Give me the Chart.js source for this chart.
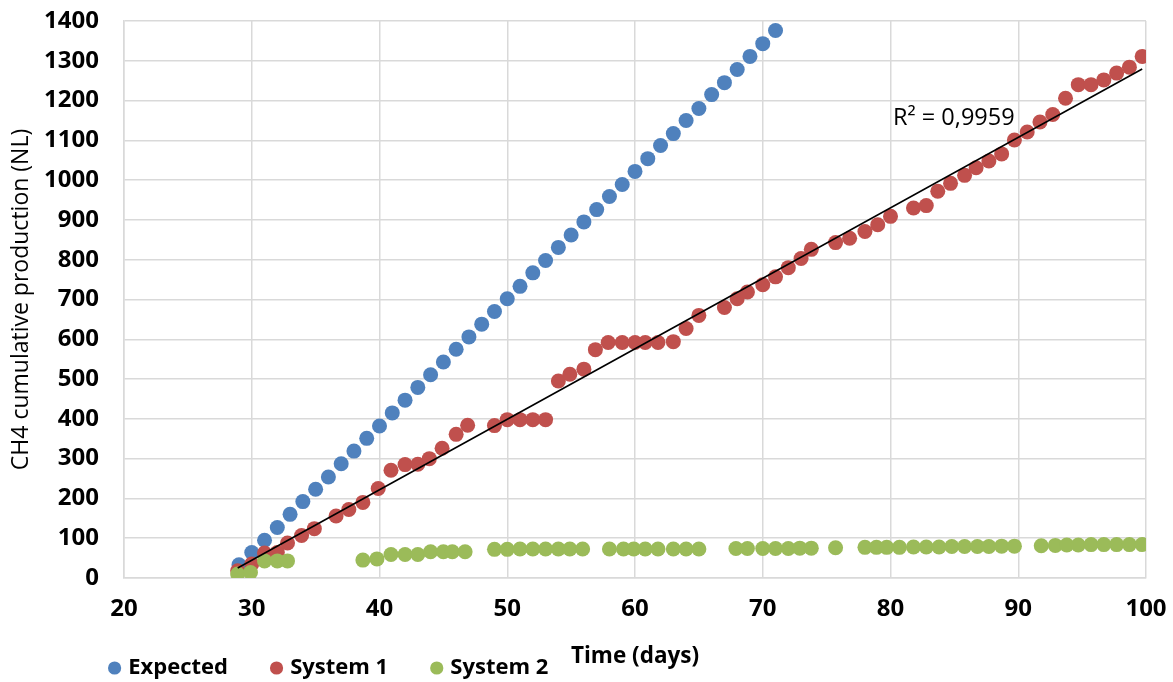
<!DOCTYPE html>
<html>
<head>
<meta charset="utf-8">
<title>CH4 cumulative production</title>
<script src="https://cdn.jsdelivr.net/npm/chart.js@4.4.1/dist/chart.umd.min.js"></script>
<style>
  html, body { margin: 0; padding: 0; background: #ffffff; }
  #wrap { width: 1173px; height: 682px; }
</style>
</head>
<body>
<div id="wrap"><canvas id="chart" width="1173" height="682"></canvas></div>
<script>
// Expected methane production (one reading per day)
const expectedDays = [29, 30, 31, 32, 33, 34, 35, 36, 37, 38, 39, 40, 41, 42, 43, 44, 45, 46, 47, 48, 49, 50,
  51, 52, 53, 54, 55, 56, 57, 58, 59, 60, 61, 62, 63, 64, 65, 66, 67, 68, 69, 70, 71];
const expectedValues = [33, 64, 95, 127, 160, 192, 223, 254, 287, 319, 351, 382, 415, 447, 479, 511, 543, 575, 606, 638, 670, 702,
  733, 767, 798, 831, 862, 895, 926, 959, 989, 1022, 1054, 1087, 1117, 1150, 1180, 1215, 1245, 1278, 1311, 1343, 1376];

// System 1 measurements
const system1Days = [28.9, 30, 31, 32, 32.8, 33.9, 34.9, 36.6, 37.6, 38.7, 39.9, 40.9, 42, 43, 43.9, 44.9, 46, 46.9,
  49, 50, 51, 52, 53, 54, 54.9, 56, 56.9, 57.9, 59, 60, 60.8, 61.8, 63, 64, 65, 67, 68, 68.8, 70, 71, 72, 73, 73.8,
  75.7, 76.8, 78, 79, 80, 81.8, 82.8, 83.7, 84.7, 85.8, 86.7, 87.7, 88.7, 89.7, 90.7, 91.7, 92.7, 93.7, 94.7, 95.7,
  96.7, 97.7, 98.7, 99.7];
const system1Values = [18, 35, 63, 64, 88, 107, 124, 156, 172, 190, 225, 271, 285, 286, 300, 326, 361, 384,
  383, 398, 398, 398, 398, 495, 512, 525, 574, 592, 592, 592, 592, 592, 594, 627, 660, 680, 702, 719, 737, 757, 780, 803, 826,
  843, 854, 871, 888, 909, 930, 936, 972, 992, 1012, 1031, 1048, 1066, 1101, 1121, 1146, 1165, 1206, 1240, 1240,
  1252, 1269, 1284, 1311];

// System 2 measurements
const system2Days = [28.9, 29.9, 31, 32, 32.8, 38.7, 39.8, 40.9, 42, 43, 44, 45, 45.7, 46.7, 49, 50, 51, 52, 53, 54,
  54.9, 55.9, 58, 59.1, 59.9, 60.8, 61.8, 63, 64, 65, 67.9, 68.8, 70, 71, 72, 72.9, 73.8, 75.7, 78, 78.9, 79.7, 80.7,
  81.8, 82.8, 83.8, 84.8, 85.8, 86.8, 87.7, 88.7, 89.7, 91.8, 92.9, 93.8, 94.7, 95.7, 96.7, 97.7, 98.7, 99.7];
const system2Values = [10, 14, 43, 43, 43, 45, 48, 59, 59, 59, 66, 66, 66, 66, 72, 72, 73, 73, 73, 73,
  73, 73, 73, 73, 73, 73, 73, 73, 73, 73, 74, 74, 74, 74, 74, 75, 75, 76, 77, 77, 77, 77,
  78, 78, 78, 79, 79, 79, 79, 80, 80, 81, 82, 83, 83, 84, 84, 84, 84, 84];

// Axis tick values
const xTickValues = [20, 30, 40, 50, 60, 70, 80, 90, 100];
const yTickValues = [0, 100, 200, 300, 400, 500, 600, 700, 800, 900, 1000, 1100, 1200, 1300, 1400];

const trendLabel = 'R² = 0,9959';

const toPoints = (xs, ys) => xs.map((x, i) => ({ x: x, y: ys[i] }));

// Least-squares linear trend of System 1, drawn across its day range
function linearTrend(xs, ys) {
  const n = xs.length;
  const mx = xs.reduce((a, b) => a + b, 0) / n;
  const my = ys.reduce((a, b) => a + b, 0) / n;
  let sxy = 0, sxx = 0;
  for (let i = 0; i < n; i++) { sxy += (xs[i] - mx) * (ys[i] - my); sxx += (xs[i] - mx) * (xs[i] - mx); }
  const slope = sxy / sxx;
  const icpt = my - slope * mx;
  const x0 = Math.min(...xs), x1 = Math.max(...xs);
  return [{ x: x0, y: icpt + slope * x0 }, { x: x1, y: icpt + slope * x1 }];
}

const FONT = '"Open Sans", "DejaVu Sans", sans-serif';
Chart.defaults.font.family = FONT;
Chart.defaults.color = '#000000';

// Key of the three series, drawn in one row under the axis title
const seriesKey = {
  id: 'seriesKey',
  afterDraw(chart, args, o) {
    const ctx = chart.ctx;
    ctx.save();
    ctx.font = 'bold ' + o.size + 'px ' + FONT;
    ctx.textBaseline = 'middle';
    ctx.textAlign = 'left';
    let x = o.x;
    const series = chart.data.datasets.filter(ds => !ds.trend).sort((a, b) => b.order - a.order);
    series.forEach(ds => {
      ctx.beginPath();
      ctx.fillStyle = ds.backgroundColor;
      ctx.arc(x + o.r, o.y, o.r, 0, Math.PI * 2);
      ctx.fill();
      const tx = x + 2 * o.r + o.gap;
      ctx.fillStyle = '#000000';
      ctx.fillText(ds.label, tx, o.y);
      x = tx + ctx.measureText(ds.label).width + o.spacing;
    });
    ctx.restore();
  }
};

// Coefficient of determination beside the trend line
const trendNote = {
  id: 'trendNote',
  afterDatasetsDraw(chart, args, o) {
    const ctx = chart.ctx;
    const sx = chart.scales.x, sy = chart.scales.y;
    ctx.save();
    ctx.font = o.size + 'px ' + FONT;
    ctx.fillStyle = '#000000';
    ctx.textBaseline = 'middle';
    ctx.textAlign = 'left';
    ctx.fillText(o.text, sx.getPixelForValue(o.atX), sy.getPixelForValue(o.atY));
    ctx.restore();
  }
};

const gridColor = '#D9D9D9';

new Chart(document.getElementById('chart'), {
  type: 'scatter',
  data: {
    datasets: [
      {
        label: 'Linear (System 1)',
        trend: true,
        type: 'line',
        data: linearTrend(system1Days, system1Values),
        borderColor: '#000000',
        borderWidth: 1.6,
        pointRadius: 0,
        fill: false,
        order: 0
      },
      {
        label: 'System 2',
        data: toPoints(system2Days, system2Values),
        backgroundColor: '#9BBB59',
        borderWidth: 0,
        pointRadius: 7.5,
        order: 1
      },
      {
        label: 'System 1',
        data: toPoints(system1Days, system1Values),
        backgroundColor: '#C0504D',
        borderWidth: 0,
        pointRadius: 7.5,
        order: 2
      },
      {
        label: 'Expected',
        data: toPoints(expectedDays, expectedValues),
        backgroundColor: '#4F81BD',
        borderWidth: 0,
        pointRadius: 7.5,
        order: 3
      }
    ]
  },
  options: {
    responsive: false,
    devicePixelRatio: 1,
    animation: false,
    events: [],
    layout: { padding: { left: 4, right: 27, top: 21, bottom: 12 } },
    plugins: {
      legend: { display: false },
      tooltip: { enabled: false },
      seriesKey: { x: 108, y: 668, r: 6.6, gap: 7, spacing: 42, size: 22 },
      trendNote: { text: trendLabel, atX: 80.2, atY: 1155, size: 23.5 }
    },
    scales: {
      x: {
        type: 'linear',
        min: 20,
        max: 100,
        afterBuildTicks: s => { s.ticks = xTickValues.map(v => ({ value: v })); },
        afterFit: s => { s.height = 92; s.paddingLeft = 0; s.paddingRight = 0; },
        grid: { color: gridColor, lineWidth: 1.5, drawTicks: false },
        border: { color: gridColor, width: 1.5 },
        ticks: { padding: 17, font: { size: 24, weight: 'bold' }, color: '#000000', callback: v => String(v) },
        title: { display: true, text: 'Time (days)', font: { size: 22.5, weight: 'bold' }, color: '#000000', padding: 0 }
      },
      y: {
        type: 'linear',
        min: 0,
        max: 1400,
        afterBuildTicks: s => { s.ticks = yTickValues.map(v => ({ value: v })); },
        afterFit: s => { s.width = 120; s.paddingTop = 0; s.paddingBottom = 0; },
        grid: { color: gridColor, lineWidth: 1.5, drawTicks: false },
        border: { color: gridColor, width: 1.5 },
        ticks: { padding: 25, font: { size: 24, weight: 'bold' }, color: '#000000', callback: v => String(v) },
        title: { display: true, text: 'CH4 cumulative production (NL)', font: { size: 23 }, color: '#000000', padding: { top: 4, bottom: 0 } }
      }
    }
  },
  plugins: [seriesKey, trendNote]
});
</script>
</body>
</html>
